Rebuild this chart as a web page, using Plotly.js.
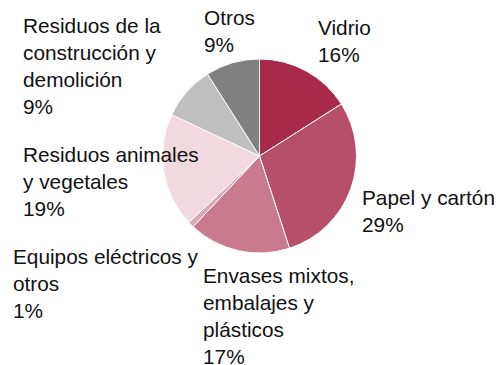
<!DOCTYPE html>
<html>
<head>
<meta charset="utf-8">
<script src="https://cdn.plot.ly/plotly-3.0.1.min.js"></script>
<style>html,body{margin:0;padding:0;background:#fff;}#chart{width:501px;height:365px;}</style>
</head>
<body>
<div id="chart"></div>
<script>
const categories = ["Vidrio", "Papel y cartón", "Envases mixtos,<br>embalajes y<br>plásticos", "Equipos eléctricos y<br>otros", "Residuos animales<br>y vegetales", "Residuos de la<br>construcción y<br>demolición", "Otros"];
const values = [16, 29, 17, 1, 19, 9, 9];
const colors = ["#a82a4a", "#b84f6a", "#c97a8e", "#dea5b5", "#f1d9df", "#bfbfbf", "#808080"];
// label anchor positions in pixels (left edge, vertical middle of block)
const labelPos = [[316, 41], [360, 211], [201, 316], [11, 283], [21, 182], [21, 66], [202, 31]];

const W = 501, H = 365;
const annotations = categories.map((c, i) => ({
  xref: "paper", yref: "paper",
  x: labelPos[i][0] / W, y: 1 - labelPos[i][1] / H,
  xanchor: "left", yanchor: "middle", align: "left",
  showarrow: false,
  text: c + "<br>" + values[i] + "%",
  font: {family: "Liberation Sans, Arial, sans-serif", size: 20.8, color: "#111"}
}));

const cx = 259.5, cy = 156, r = 97;
Plotly.newPlot("chart", [{
  type: "pie",
  labels: categories,
  values: values,
  sort: false,
  direction: "clockwise",
  rotation: 0,
  textinfo: "none",
  hoverinfo: "none",
  marker: {colors: colors, line: {color: "#ffffff", width: 1}},
  domain: {x: [(cx - r) / W, (cx + r) / W], y: [1 - (cy + r) / H, 1 - (cy - r) / H]}
}], {
  width: W, height: H,
  margin: {l: 0, r: 0, t: 0, b: 0},
  showlegend: false,
  paper_bgcolor: "#ffffff",
  annotations: annotations
}, {staticPlot: true, displayModeBar: false});
</script>
</body>
</html>
